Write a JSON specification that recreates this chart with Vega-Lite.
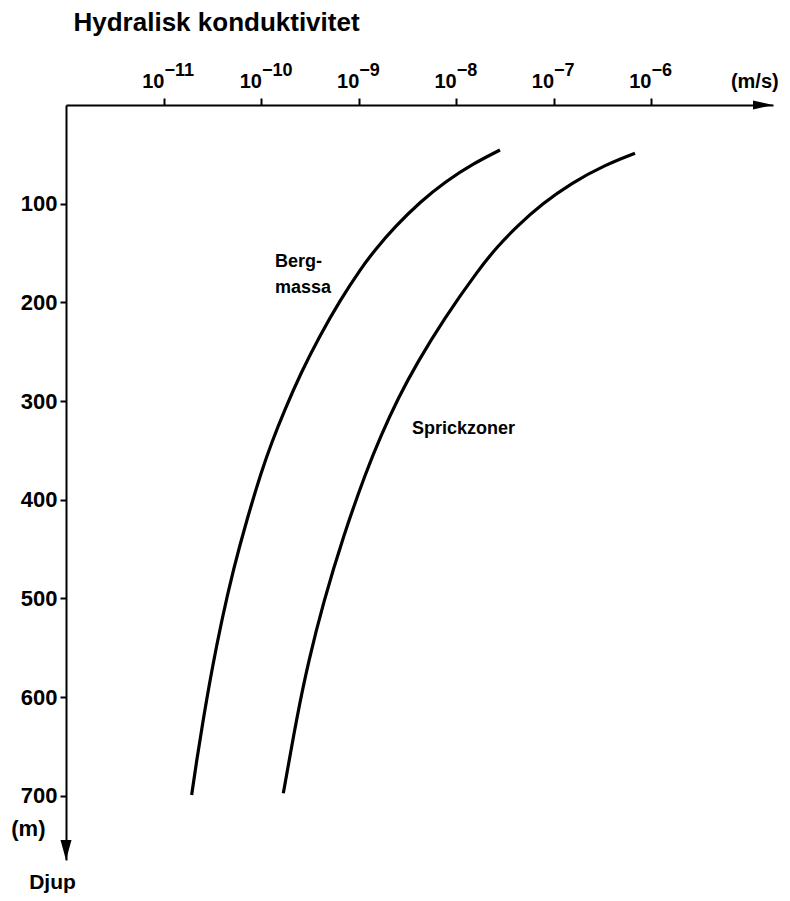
{
  "$schema": "https://vega.github.io/schema/vega-lite/v6.json",
  "width": 707,
  "height": 755,
  "autosize": {"type": "none"},
  "padding": {"left": 66, "top": 105, "right": 17, "bottom": 41},
  "background": "white",
  "config": {"view": {"stroke": null}, "font": "Liberation Sans", "axis": {"grid": false}},
  "datasets": {
    "curves": [
      {"series": "Bergmassa", "K": 2.818e-8, "depth": 45.6},
      {"series": "Bergmassa", "K": 1.514e-8, "depth": 59.1},
      {"series": "Bergmassa", "K": 7.707e-9, "depth": 77.7},
      {"series": "Bergmassa", "K": 4.295e-9, "depth": 98.0},
      {"series": "Bergmassa", "K": 2.35e-9, "depth": 123.3},
      {"series": "Bergmassa", "K": 1.462e-9, "depth": 146.9},
      {"series": "Bergmassa", "K": 1.054e-9, "depth": 165.5},
      {"series": "Bergmassa", "K": 6.442e-10, "depth": 197.6},
      {"series": "Bergmassa", "K": 3.926e-10, "depth": 234.8},
      {"series": "Bergmassa", "K": 2.535e-10, "depth": 271.8},
      {"series": "Bergmassa", "K": 1.734e-10, "depth": 309.0},
      {"series": "Bergmassa", "K": 1.265e-10, "depth": 342.8},
      {"series": "Bergmassa", "K": 1.014e-10, "depth": 369.8},
      {"series": "Bergmassa", "K": 7.063e-11, "depth": 420.5},
      {"series": "Bergmassa", "K": 5.14e-11, "depth": 471.1},
      {"series": "Bergmassa", "K": 3.917e-11, "depth": 521.8},
      {"series": "Bergmassa", "K": 3.097e-11, "depth": 572.4},
      {"series": "Bergmassa", "K": 2.523e-11, "depth": 623.1},
      {"series": "Bergmassa", "K": 2.143e-11, "depth": 667.0},
      {"series": "Bergmassa", "K": 1.923e-11, "depth": 699.1},
      {"series": "Sprickzoner", "K": 6.855e-7, "depth": 48.9},
      {"series": "Sprickzoner", "K": 3.35e-7, "depth": 60.8},
      {"series": "Sprickzoner", "K": 1.514e-7, "depth": 79.3},
      {"series": "Sprickzoner", "K": 7.762e-8, "depth": 99.6},
      {"series": "Sprickzoner", "K": 4.159e-8, "depth": 123.3},
      {"series": "Sprickzoner", "K": 2.642e-8, "depth": 143.6},
      {"series": "Sprickzoner", "K": 1.734e-8, "depth": 165.5},
      {"series": "Sprickzoner", "K": 7.345e-9, "depth": 217.8},
      {"series": "Sprickzoner", "K": 3.954e-9, "depth": 261.7},
      {"series": "Sprickzoner", "K": 2.576e-9, "depth": 295.5},
      {"series": "Sprickzoner", "K": 1.667e-9, "depth": 336.1},
      {"series": "Sprickzoner", "K": 1.208e-9, "depth": 369.8},
      {"series": "Sprickzoner", "K": 6.887e-10, "depth": 437.4},
      {"series": "Sprickzoner", "K": 4.305e-10, "depth": 504.9},
      {"series": "Sprickzoner", "K": 3.069e-10, "depth": 562.3},
      {"series": "Sprickzoner", "K": 2.35e-10, "depth": 616.3},
      {"series": "Sprickzoner", "K": 1.679e-10, "depth": 697.4}
    ],
    "labels": [
      {"label": "Berg-", "K": 1.38e-10, "depth": 163.8},
      {"label": "massa", "K": 1.38e-10, "depth": 190.8},
      {"label": "Sprickzoner", "K": 3.52e-9, "depth": 333.3}
    ],
    "xarrow": [{"K": 1.79e-5, "depth": 0}],
    "yarrow": [{"K": 9.86e-13, "depth": 765}]
  },
  "resolve": {"axis": {"x": "independent", "y": "independent"}},
  "layer": [
    {
      "data": {"name": "curves"},
      "mark": {"type": "line", "color": "black", "strokeWidth": 3.2, "interpolate": "basis"},
      "encoding": {
        "x": {
          "field": "K", "type": "quantitative",
          "scale": {"type": "log", "domain": [9.86e-13, 1.79e-5], "nice": false},
          "axis": {
            "orient": "top",
            "values": [1e-11, 1e-10, 1e-9, 1e-8, 1e-7, 1e-6, 1.15e-5],
            "labelExpr": "datum.value > 5e-6 ? '(m/s)' : '10'",
            "labelAlign": {"condition": {"test": "datum.value > 5e-6", "value": "center"}, "value": "right"},
            "labelDx": -4,
            "labelBaseline": "alphabetic",
            "labelPadding": 11,
            "labelFont": "Liberation Sans", "labelFontSize": 20, "labelFontWeight": "bold", "labelColor": "black",
            "labelOverlap": false, "labelFlush": false, "labelBound": false,
            "domain": true, "domainColor": "black", "domainWidth": 2,
            "ticks": true, "tickSize": 7, "tickWidth": 2, "tickColor": "black",
            "tickOpacity": {"condition": {"test": "datum.value > 5e-6", "value": 0}, "value": 1},
            "grid": false,
            "title": "Hydralisk konduktivitet",
            "titleX": 7, "titleY": -75, "titleAlign": "left", "titleBaseline": "alphabetic", "titleAnchor": "start",
            "titleFont": "Liberation Sans", "titleFontSize": 26, "titleFontWeight": "bold", "titleColor": "black"
          }
        },
        "y": {
          "field": "depth", "type": "quantitative",
          "scale": {"domain": [0, 765], "reverse": true, "nice": false, "zero": false},
          "axis": {
            "orient": "left",
            "values": [100, 200, 300, 400, 500, 600, 700, 733],
            "format": "d",
            "labelExpr": "datum.value > 720 ? '(m)' : datum.label",
            "tickOpacity": {"condition": {"test": "datum.value > 720", "value": 0}, "value": 1},
            "labelFont": "Liberation Sans", "labelFontSize": 22, "labelFontWeight": "bold", "labelColor": "black",
            "labelPadding": {"condition": {"test": "datum.value > 720", "value": 15}, "value": 3},
            "labelBaseline": "middle", "labelAlign": "right",
            "labelOverlap": false, "labelFlush": false, "labelBound": false,
            "domain": true, "domainColor": "black", "domainWidth": 2,
            "ticks": true, "tickColor": "black", "tickWidth": 2, "tickSize": 6,
            "grid": false,
            "title": "Djup", "titleAngle": 0, "titleX": -14, "titleY": 783,
            "titleAlign": "center", "titleBaseline": "alphabetic",
            "titleFont": "Liberation Sans", "titleFontSize": 21, "titleFontWeight": "bold", "titleColor": "black"
          }
        },
        "detail": {"field": "series"},
        "order": {"field": "depth", "type": "quantitative"}
      }
    },
    {
      "data": {"name": "labels"},
      "mark": {"type": "text", "align": "left", "baseline": "alphabetic", "font": "Liberation Sans", "fontSize": 18, "fontWeight": "bold", "color": "black"},
      "encoding": {
        "x": {"field": "K", "type": "quantitative", "scale": {"type": "log", "domain": [9.86e-13, 1.79e-5], "nice": false}, "axis": null},
        "y": {"field": "depth", "type": "quantitative", "scale": {"domain": [0, 765], "reverse": true, "nice": false, "zero": false}, "axis": null},
        "text": {"field": "label"}
      }
    },
    {
      "data": {"name": "xarrow"},
      "mark": {"type": "point", "shape": "M0,0L-2,-0.45L-2,0.45Z", "size": 400, "filled": true, "color": "black", "opacity": 1, "strokeWidth": 0},
      "encoding": {
        "x": {
          "field": "K", "type": "quantitative",
          "scale": {"type": "log", "domain": [9.86e-13, 1.79e-5], "nice": false},
          "axis": {
            "orient": "top",
            "values": [1e-11, 1e-10, 1e-9, 1e-8, 1e-7, 1e-6],
            "labelExpr": "'\u2212' + round(-log(datum.value)/LN10)",
            "labelAlign": "left", "labelDx": -3, "labelBaseline": "alphabetic", "labelPadding": 30,
            "labelFont": "Liberation Sans", "labelFontSize": 18, "labelFontWeight": "bold", "labelColor": "black",
            "labelOverlap": false, "labelFlush": false, "labelBound": false,
            "domain": false, "ticks": false, "tickSize": 0, "grid": false, "title": null
          }
        },
        "y": {"field": "depth", "type": "quantitative", "scale": {"domain": [0, 765], "reverse": true, "nice": false, "zero": false}, "axis": null}
      }
    },
    {
      "data": {"name": "yarrow"},
      "mark": {"type": "point", "shape": "M0,0L-0.55,-2L0.55,-2Z", "size": 400, "filled": true, "color": "black", "opacity": 1, "strokeWidth": 0},
      "encoding": {
        "x": {"field": "K", "type": "quantitative", "scale": {"type": "log", "domain": [9.86e-13, 1.79e-5], "nice": false}, "axis": null},
        "y": {"field": "depth", "type": "quantitative", "scale": {"domain": [0, 765], "reverse": true, "nice": false, "zero": false}, "axis": null}
      }
    }
  ]
}
